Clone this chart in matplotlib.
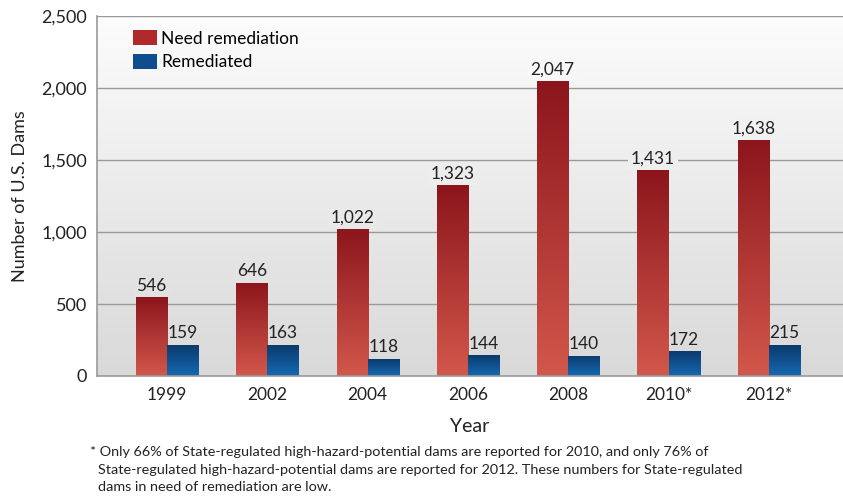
import numpy as np
import matplotlib.pyplot as plt
from matplotlib.patches import Rectangle
from matplotlib.colors import LinearSegmentedColormap

years = ["1999", "2002", "2004", "2006", "2008", "2010*", "2012*"]
need_remediation = [546, 646, 1022, 1323, 2047, 1431, 1638]
remediated = [159, 163, 118, 144, 140, 172, 215]
# the source draws the first two blue bars taller than their labels say
remediated_drawn = [215, 215, 118, 144, 140, 172, 215]

y_ticks = [0, 500, 1000, 1500, 2000, 2500]
footnote = [
    "* Only 66% of State-regulated high-hazard-potential dams are reported for 2010, and only 76% of",
    "State-regulated high-hazard-potential dams are reported for 2012. These numbers for State-regulated",
    "dams in need of remediation are low.",
]

font = "Lato"
text_color = "#222222"

red_cmap = LinearSegmentedColormap.from_list("red", ["#d2584b", "#8c151c"])
blue_cmap = LinearSegmentedColormap.from_list("blue", ["#1669b3", "#0b3a6c"])
bg_cmap = LinearSegmentedColormap.from_list("bg", ["#d9d9d9", "#fcfcfc"])

fig = plt.figure(figsize=(8.43, 4.99), dpi=100)
ax = fig.add_axes([0.115, 0.2465, 0.885, 0.7214])

x = np.arange(len(years))
w = 0.31
ymax = 2500
ax.set_xlim(-0.7, 6.74)
ax.set_ylim(0, ymax)

# gradient background
grad = np.linspace(0, 1, 256).reshape(-1, 1)
ax.imshow(grad, cmap=bg_cmap, origin="lower", aspect="auto",
          extent=[-0.7, 6.74, 0, ymax], zorder=0)

for t in y_ticks[1:]:
    ax.axhline(t, color="#9a9a9a", lw=1.0, zorder=1)


def gradient_bars(xs, heights, cmap):
    bars = ax.bar(xs, heights, width=w, color="none", edgecolor="none", zorder=2)
    for b in bars:
        x0, y0 = b.get_x(), b.get_y()
        bw, bh = b.get_width(), b.get_height()
        im = ax.imshow(grad, cmap=cmap, origin="lower", aspect="auto",
                       extent=[x0, x0 + bw, 0, bh], zorder=2)
        rect = Rectangle((x0, y0), bw, bh, transform=ax.transData)
        im.set_clip_path(rect)
    return bars


gradient_bars(x - w / 2, need_remediation, red_cmap)
gradient_bars(x + w / 2, remediated_drawn, blue_cmap)


def bg_at(v):
    return bg_cmap(v / ymax)


for xi, v in zip(x - w / 2, need_remediation):
    ax.text(xi, v + 25, f"{v:,}", ha="center", va="bottom", fontsize=12.5,
            family=font, color=text_color, zorder=4,
            bbox=dict(boxstyle="square,pad=0.15", fc=bg_at(v + 90), ec="none"))
for xi, v, h in zip(x + w / 2, remediated, remediated_drawn):
    ax.text(xi, h + 25, f"{v:,}", ha="center", va="bottom", fontsize=12.5,
            family=font, color=text_color, zorder=4)

ax.set_xticks(x)
ax.set_xticklabels(years, family=font, fontsize=12.5)
ax.set_yticks(y_ticks)
ax.set_yticklabels([f"{t:,}" for t in y_ticks], family=font, fontsize=13)
ax.tick_params(length=0, colors=text_color)
ax.tick_params(axis="y", pad=7)
ax.tick_params(axis="x", pad=8)

for s in ["top", "right"]:
    ax.spines[s].set_visible(False)
for s in ["left", "bottom"]:
    ax.spines[s].set_color("#9a9a9a")
    ax.spines[s].set_linewidth(1.2)
    ax.spines[s].set_zorder(3)

ax.set_xlabel("Year", family=font, fontsize=14, labelpad=11, color=text_color)
ax.set_ylabel("Number of U.S. Dams", family=font, fontsize=13,
              labelpad=10, color=text_color)

handles = [Rectangle((0, 0), 1, 1, fc="#b02a2b"), Rectangle((0, 0), 1, 1, fc="#0e4e8e")]
ax.legend(handles, ["Need remediation", "Remediated"], loc="upper left",
          bbox_to_anchor=(0.028, 1.005), frameon=False,
          prop=dict(family=font, size=12.5), handlelength=1.35,
          handleheight=1.0, handletextpad=0.25, labelspacing=0.4)

fig.text(90 / 843, 1 - 452 / 499, footnote[0], family=font, fontsize=10.4,
         va="center", color=text_color)
for i, line in enumerate(footnote[1:]):
    fig.text(98 / 843, 1 - (469.5 + 17.5 * i) / 499, line, family=font,
             fontsize=10.4, va="center", color=text_color)

fig.savefig("out.png", dpi=100)
